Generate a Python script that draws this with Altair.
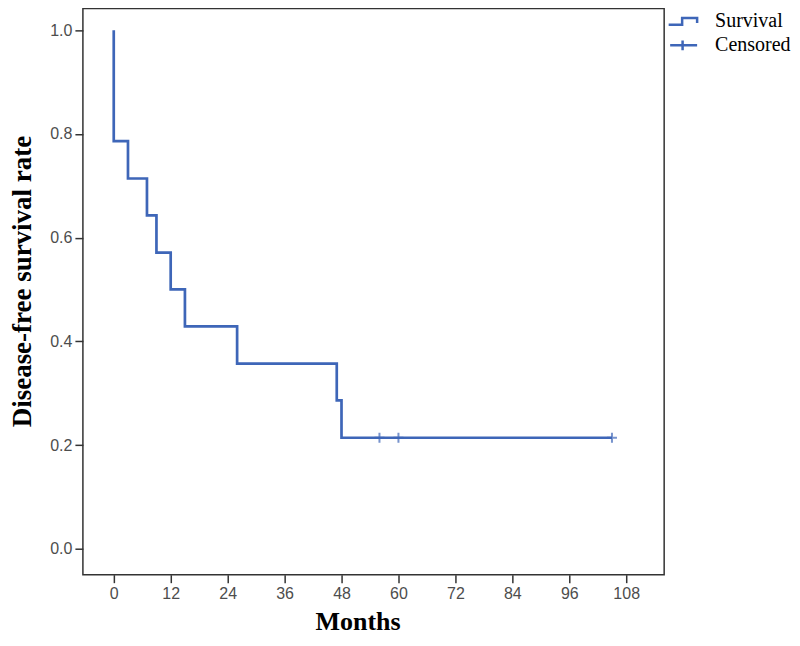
import altair as alt
import pandas as pd

# Kaplan-Meier step curve (months, survival)
times = [0, 0, 3, 7, 9, 12, 15, 26, 47, 48, 105]
survival = [1.0, 0.786, 0.714, 0.643, 0.571, 0.500, 0.429, 0.357, 0.286, 0.214, 0.214]
order_idx = list(range(len(times)))

# Censored observations
censor_times = [56, 60, 105]
censor_surv = [0.214, 0.214, 0.214]

series_names = ["Survival", "Censored"]
x_ticks = [0, 12, 24, 36, 48, 60, 72, 84, 96, 108]
y_ticks = [0.0, 0.2, 0.4, 0.6, 0.8, 1.0]

BLUE = "#3E66B8"
STEP_PATH = "M -1 0.23 L -0.1 0.23 L -0.1 -0.23 L 0.9 -0.23 L 0.9 0.1"
LEG_PLUS = "M -0.9 0 L 0.9 0 M -0.07 -0.33 L -0.07 0.33"
PLUS = "M -1 0 L 1 0 M 0 -1 L 0 1"

curve = pd.DataFrame({"t": times, "s": survival, "i": order_idx})
cens = pd.DataFrame({"t": censor_times, "s": censor_surv, "series": ["Censored"] * len(censor_times)})

x_scale = alt.Scale(domain=[-6.5, 116.0], nice=False, zero=False)
y_scale = alt.Scale(domain=[-0.050, 1.042], nice=False, zero=False)

x_axis = alt.Axis(
    values=x_ticks, title="Months", grid=False, domain=False,
    tickSize=8, tickWidth=1.5, tickColor="#333333",
    labelFont="Liberation Sans", labelFontSize=16, labelColor="#4d4d4d", labelPadding=3,
    titleFont="Liberation Serif", titleFontSize=26, titleFontWeight="bold", titleColor="#000000",
    titleX=275, titleY=55, titleAlign="center", titleBaseline="alphabetic",
)
y_axis = alt.Axis(
    values=y_ticks, format=".1f", title="Disease-free survival rate", grid=False, domain=False,
    tickSize=8, tickWidth=1.5, tickColor="#333333",
    labelFont="Liberation Sans", labelFontSize=16, labelColor="#4d4d4d", labelPadding=3,
    titleFont="Liberation Serif", titleFontSize=27, titleFontWeight="bold", titleColor="#000000",
    titleX=-60, titleY=273, titleAngle=-90, titleAlign="center", titleBaseline="middle",
)

line = alt.Chart(curve).mark_line(interpolate="step-after", color=BLUE, strokeWidth=2.7).encode(
    x=alt.X("t:Q", scale=x_scale, axis=x_axis),
    y=alt.Y("s:Q", scale=y_scale, axis=y_axis),
    order=alt.Order("i:Q"),
)

marks = alt.Chart(cens).mark_point(shape=PLUS, size=100, filled=False, strokeWidth=2, color=BLUE).encode(
    x=alt.X("t:Q", scale=x_scale),
    y=alt.Y("s:Q", scale=y_scale),
)

legend_layer = alt.Chart(cens).mark_point(filled=False, size=0, strokeWidth=2.5).encode(
    x=alt.X("t:Q", scale=x_scale),
    y=alt.Y("s:Q", scale=y_scale),
    color=alt.Color("series:N", scale=alt.Scale(domain=series_names, range=[BLUE, BLUE]),
                    legend=alt.Legend(title=None)),
    shape=alt.Shape("series:N", scale=alt.Scale(domain=series_names, range=[STEP_PATH, LEG_PLUS]),
                    legend=alt.Legend(title=None)),
)

chart = alt.layer(line, marks, legend_layer).properties(
    width=582, height=567,
    autosize=alt.AutoSizeParams(type="none"),
    padding={"left": 75, "top": 0, "right": 128, "bottom": 60},
).configure_view(
    stroke="#333333", strokeWidth=1.5,
).configure_legend(
    orient="none", legendX=585, legendY=3, padding=0,
    symbolSize=900, symbolStrokeWidth=2.5, symbolOpacity=1, symbolFillColor="transparent",
    labelFont="Liberation Serif", labelFontSize=20, labelColor="#000000", labelOffset=15,
    clipHeight=20, rowPadding=4, labelLimit=200,
)

chart.save("out.html", embed_options={"renderer": "svg", "actions": False})
